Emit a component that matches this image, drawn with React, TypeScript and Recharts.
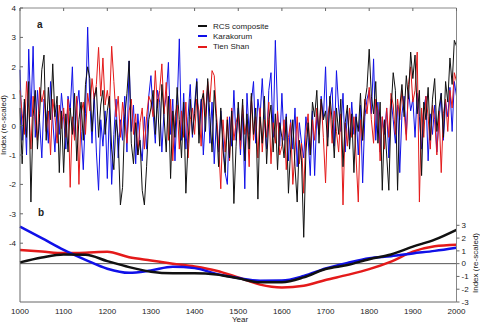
import React from "react";
import {
  ComposedChart,
  Line,
  XAxis,
  YAxis,
  ReferenceLine,
} from "recharts";

// panel a: values every 5 years, 1000-2000
const years = Array.from({ length: 201 }, (_, i) => 1000 + 5 * i);

const rcs = [
  0.6, -1.3, 0.9, -0.4, 1.5, -2.6, 0.3, 1.2, -0.8, 0.4, 1.9, 2.4, -0.5, 1.3, 0.2, 2.1, 0.3, 1.0, -1.6, 0.5,
  -1.6, 0.4, -0.9, 0.6, -0.3, 1.1, -1.2, 0.2, 0.8, -0.5, 1.4, 2.0, 1.6, -0.2, 0.9, 1.3, -0.4, 0.7, 1.2, -0.3,
  0.5, 1.0, -0.8, -1.5, 0.2, -0.4, -2.7, -2.1, 0.3, 1.1, 2.2, -0.6, -1.3, 0.1, -1.0, -0.5, -2.2, -2.7, -1.4, 0.2,
  0.6, 1.2, -0.3, 0.9, -0.7, 1.4, 0.3, -0.9, 1.0, -1.8, 0.5, -0.4, 1.3, 0.2, -1.1, 0.8, -2.3, -0.6, 0.9, -0.3,
  0.4, 1.5, -0.6, 0.8, 1.1, -0.2, 1.6, 0.3, -0.9, 1.2, 0.1, -1.4, 0.6, -0.8, -1.6, 0.2, -1.1, 0.5, -2.65, -0.7,
  0.8, -0.5, 0.9, -1.2, 0.4, -0.8, 1.1, -0.3, 0.6, -2.5, 0.3, -0.6, 1.0, -1.3, 0.2, 0.7, -0.9, 0.4, -1.5, 0.1,
  -0.4, -1.1, 0.3, -2.3, -0.8, 0.2, -1.4, -2.6, -0.5, -1.2, -3.8, -0.9, 0.1, -1.0, 0.8, 0.3, 1.2, -0.6, 0.9, 0.2,
  0.5, -0.7, 1.0, 0.2, -1.1, 0.6, -0.3, 0.9, -1.4, 0.1, 0.7, -0.8, 0.4, -1.6, 0.3, -0.2, 1.1, -0.5, 0.8, 1.3,
  2.6, 1.0, 0.4, 1.5, -0.6, 0.8, -2.2, 0.2, -1.0, -2.2, 0.5, 1.8, 1.2, -2.2, 0.6, 1.4, 0.3, 1.7, 0.9, 2.5,
  1.6, 2.4, 0.4, 1.2, -1.7, 0.8, 0.2, 1.3, -0.5, 0.9, 1.6, -0.2, 0.6, 1.1, -0.4, 1.5, 0.8, 2.3, 1.4, 2.9, 2.7,
];

const karakorum = [
  1.9, -0.5, 0.8, -1.0, 2.6, 0.3, 2.7, -0.4, 1.2, 0.1, -1.1, 0.9, 0.4, -0.6, 1.5, 0.2, -0.9, 0.7, -0.3, 1.1,
  0.3, -0.8, 1.0, 0.5, 2.0, -0.4, 0.6, 1.2, -0.2, -1.5, 0.4, 3.35, 0.8, -0.6, 1.1, -0.9, -2.2, 0.2, -0.7, 0.5,
  -1.8, 0.6, -2.0, -0.3, 0.9, -1.1, 0.2, -0.5, 1.0, -0.9, 2.2, -0.2, 0.7, -1.3, 0.4, -0.6, -1.2, 0.3, -0.8, 1.0,
  1.7, 0.4, -0.6, 1.2, 0.8, -0.9, 0.5, 1.0, 2.15, -0.3, 0.9, -1.2, 0.6, 2.95, -0.5, 1.1, -0.8, 0.3, 1.4, -0.4,
  0.7, 1.6, -0.3, 0.9, -1.0, 0.4, 1.26, -0.6, 0.8, -1.3, 0.2, -0.9, 0.5, -0.4, -1.6, -2.0, 0.3, -0.7, 1.2, -0.5,
  0.6, -1.0, 0.4, -2.15, 1.1, -0.3, 0.8, 1.5, -0.6, 0.9, 0.3, 1.6, 0.2, -0.8, 1.2, 1.8, -0.4, 2.9, 0.5, -0.7,
  1.1, -0.5, 0.4, -1.2, 0.2, -0.8, 0.6, -1.4, 0.1, -0.6, -1.1, 0.3, -0.4, -1.7, 0.5, -1.7, 0.4, -0.3, 1.0, 0.2,
  2.0, -0.4, 0.9, 1.3, -0.7, 1.87, 0.6, -0.2, 1.1, -0.9, 0.5, -0.5, 0.8, -0.3, 0.4, -1.0, 0.7, -1.95, 0.3, 0.9,
  1.2, 0.4, 2.27, -0.5, 0.8, -0.9, 0.3, -0.3, 0.6, -1.1, 0.9, 0.2, -0.6, 0.7, -1.6, 0.4, 1.0, -0.3, 1.2, 0.5,
  0.9, -0.4, 1.1, 0.3, -0.8, 0.6, 1.0, -1.2, 0.4, -0.3, 0.7, -0.9, 0.2, 1.1, -0.5, 0.8, 0.3, 1.3, -0.2, 1.5, 1.0,
];

const tienShan = [
  1.2, 0.4, -0.3, 1.5, 0.6, -0.8, 1.0, 0.2, -0.5, 1.3, 0.8, 1.2, -0.2, 0.5, -1.0, 0.9, 0.3, -0.6, 0.7, -0.1,
  0.6, -0.4, 0.9, -2.1, 0.3, -0.5, 1.0, -2.0, 0.4, 0.8, -0.3, 1.1, 0.5, 1.6, 0.9, 1.4, 2.66, 1.0, 2.3, 0.7,
  1.2, 0.6, 2.7, 1.5, 0.3, 1.0, -0.4, 0.8, 0.2, -0.6, 0.5, 0.9, -0.3, 0.4, -1.0, 0.1, 0.6, -0.8, 0.3, 1.0,
  0.8, 0.3, 1.87, 0.6, 1.2, 2.1, 0.4, 1.47, -0.5, 0.9, -1.2, 0.3, 0.7, -0.8, 0.5, -0.4, 0.8, -1.1, 0.2, 0.6,
  -0.3, 0.9, 0.5, -0.7, 1.2, 0.3, 1.5, 0.8, 1.87, 1.7, 0.4, -0.6, -2.15, 0.2, -0.9, 0.3, -1.2, 0.6, -0.5, 0.1,
  0.4, -0.8, 0.7, -0.3, 0.2, -1.4, 1.0, -0.5, 0.3, -1.1, 0.6, -0.9, 0.2, -0.4, 0.8, -1.3, 0.1, -0.6, 0.5, -1.0,
  -0.7, 0.2, -1.5, -0.4, 0.1, -2.0, -0.9, 0.3, -1.3, -0.6, -2.3, -0.3, 0.4, -1.0, 0.2, -0.5, 0.6, -0.2, 0.9, -0.4,
  -1.95, 0.3, 0.8, -0.6, 0.5, -0.2, -0.9, 0.4, -2.7, 0.1, -0.7, 0.6, -0.4, 0.3, -1.1, -2.6, 0.2, -0.5, 0.9, 0.4,
  1.3, 0.2, -0.6, 0.9, 0.5, -1.2, 0.3, -0.8, 0.6, -0.4, 1.1, 0.7, -0.3, 0.9, 0.2, 1.2, 0.5, -0.5, 1.4, 2.0,
  0.8, 1.2, 2.5, -2.6, 0.6, -0.4, 1.0, 0.3, -0.8, 0.7, 0.2, -1.0, 0.5, -1.6, 0.4, 0.9, -0.2, 1.2, 0.6, 1.8, 1.5,
];

// panel b: smoothed curves every 50 years
const smoothYears = [
  1000, 1050, 1100, 1150, 1200, 1250, 1300, 1350, 1400, 1450, 1500,
  1550, 1600, 1650, 1700, 1750, 1800, 1850, 1900, 1950, 2000,
];
const rcsSmooth = [
  0.1, 0.48, 0.72, 0.7, 0.2, -0.27, -0.63, -0.75, -0.75, -0.85, -1.15,
  -1.46, -1.45, -1.07, -0.42, -0.11, 0.35, 0.72, 1.33, 1.88, 2.65,
];
const karSmooth = [
  2.9, 2.0, 1.08, 0.3, -0.4, -0.72, -0.53, -0.25, -0.35, -0.8, -1.13,
  -1.33, -1.32, -0.97, -0.38, 0.06, 0.43, 0.58, 0.8, 1.0, 1.25,
];
const tienSmooth = [
  1.07, 0.95, 0.83, 0.86, 0.93, 0.5, 0.25, 0.0, -0.22, -0.55, -1.08,
  -1.64, -1.86, -1.73, -1.28, -0.88, -0.43, 0.16, 0.94, 1.36, 1.48,
];

const xTicks = [1000, 1100, 1200, 1300, 1400, 1500, 1600, 1700, 1800, 1900, 2000];
const leftTicks = [-4, -3, -2, -1, 0, 1, 2, 3, 4];
const rightTicks = [-3, -2, -1, 0, 1, 2, 3];

const annual = years.map((year, i) => ({
  year,
  rcs: rcs[i],
  kar: karakorum[i],
  tien: tienShan[i],
}));

const smooth = smoothYears.map((year, i) => ({
  year,
  rcsS: rcsSmooth[i],
  karS: karSmooth[i],
  tienS: tienSmooth[i],
}));

const BLACK = "#111111";
const BLUE = "#1010e8";
const RED = "#e41a1a";
const FONT = "'Liberation Sans', Arial, sans-serif";

const LeftTick = (p: any) => (
  <g>
    <text x={p.x} y={p.y} dy={3} textAnchor="end" fontSize={8} fill="#222" fontFamily={FONT}>
      {p.payload.value}
    </text>
    <line x1={p.x + 4} x2={p.x + 7} y1={p.y} y2={p.y} stroke="#666" />
  </g>
);

const TopTick = (p: any) => (
  <line x1={p.x} x2={p.x} y1={p.y} y2={p.y + 3} stroke="#666" />
);

const legendItems = [
  { label: "RCS composite", color: BLACK },
  { label: "Karakorum", color: BLUE },
  { label: "Tien Shan", color: RED },
];

export default function App() {
  return (
    <div style={{ position: "absolute", left: 0, top: 0, width: 480, height: 325, background: "#fff", fontFamily: FONT }}>
      <ComposedChart width={480} height={325} data={annual} margin={{ top: 0, right: 0, bottom: 0, left: 0 }}>
        <XAxis
          dataKey="year"
          type="number"
          domain={[1000, 2000]}
          ticks={xTicks}
          height={23}
          tickLine={false}
          tickSize={0}
          tickMargin={6}
          axisLine={{ stroke: "#666" }}
          tick={{ fontSize: 8, fill: "#222", fontFamily: FONT }}
        />
        <XAxis
          xAxisId="top"
          orientation="top"
          dataKey="year"
          type="number"
          domain={[1000, 2000]}
          ticks={xTicks}
          height={8}
          tickLine={false}
          tickSize={0}
          tickMargin={0}
          axisLine={{ stroke: "#888" }}
          tick={TopTick}
        />
        <YAxis
          yAxisId="a"
          orientation="left"
          width={20}
          domain={[-6, 4]}
          ticks={leftTicks}
          tickLine={false}
          tickSize={0}
          tickMargin={4}
          axisLine={{ stroke: "#666" }}
          tick={LeftTick}
          interval={0}
        />
        <YAxis
          yAxisId="b"
          orientation="right"
          width={23.5}
          domain={[-3, 20]}
          ticks={rightTicks}
          tickSize={3}
          tickMargin={2}
          tickLine={{ stroke: "#666" }}
          axisLine={{ stroke: "#888" }}
          tick={{ fontSize: 8, fill: "#222", fontFamily: FONT }}
          interval={0}
        />
        <ReferenceLine yAxisId="b" y={0} stroke="#555" strokeWidth={1} />

        <Line yAxisId="a" dataKey="kar" stroke={BLUE} strokeWidth={1} dot={false} type="linear" isAnimationActive={false} />
        <Line yAxisId="a" dataKey="tien" stroke={RED} strokeWidth={1} dot={false} type="linear" isAnimationActive={false} />
        <Line yAxisId="a" dataKey="rcs" stroke={BLACK} strokeWidth={1} dot={false} type="linear" isAnimationActive={false} />

        <Line yAxisId="b" data={smooth} dataKey="tienS" stroke={RED} strokeWidth={2.5} dot={false} type="monotone" isAnimationActive={false} />
        <Line yAxisId="b" data={smooth} dataKey="karS" stroke={BLUE} strokeWidth={2.5} dot={false} type="monotone" isAnimationActive={false} />
        <Line yAxisId="b" data={smooth} dataKey="rcsS" stroke={BLACK} strokeWidth={2.5} dot={false} type="monotone" isAnimationActive={false} />
      </ComposedChart>

      {/* legend */}
      <div style={{ position: "absolute", left: 198, top: 21 }}>
        {legendItems.map((it) => (
          <div key={it.label} style={{ display: "flex", alignItems: "center", height: 10.3, fontSize: 8, color: "#222" }}>
            <span style={{ display: "inline-block", width: 9, height: 2, background: it.color, marginRight: 6 }} />
            {it.label}
          </div>
        ))}
      </div>

      <div style={{ position: "absolute", left: 37, top: 19, fontSize: 10, fontWeight: "bold", color: "#222" }}>a</div>
      <div style={{ position: "absolute", left: 38, top: 207, fontSize: 10, fontWeight: "bold", color: "#222" }}>b</div>
      <div style={{ position: "absolute", left: 0, width: 480, top: 315, textAlign: "center", fontSize: 8, color: "#222", paddingLeft: -4 }}>Year</div>
      <div style={{ position: "absolute", left: 3, top: 125, fontSize: 8, color: "#222", whiteSpace: "nowrap", transform: "translate(-50%, -50%) rotate(-90deg)" }}>
        Index (re-scaled)
      </div>
      <div style={{ position: "absolute", left: 475, top: 263, fontSize: 8, color: "#222", whiteSpace: "nowrap", transform: "translate(-50%, -50%) rotate(-90deg)" }}>
        Index (re-scaled)
      </div>
    </div>
  );
}
